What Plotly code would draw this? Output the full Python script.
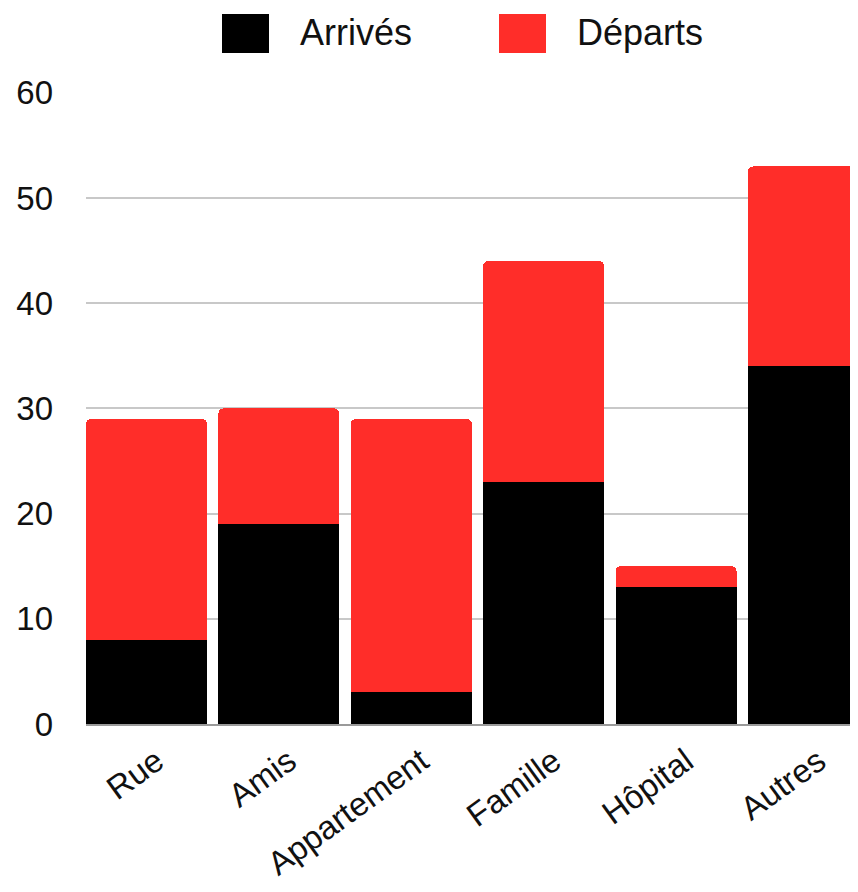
import plotly.graph_objects as go

categories = ["Rue", "Amis", "Appartement", "Famille", "Hôpital", "Autres"]
arrives = [8, 19, 3, 23, 13, 34]
departs = [21, 11, 26, 21, 2, 19]
series_names = ["Arrivés", "Départs"]
colors = ["#000000", "#ff2d29"]
y_ticks = [0, 10, 20, 30, 40, 50, 60]

# page body has an 8px margin: reference pixel p -> figure pixel p - 8
OFF = 8
W, H = 858 - OFF, 892 - OFF
L, R, T, B = 86 - OFF, 0, 92 - OFF, 892 - 724
PW, PH = W - L - R, H - T - B

def px_x(x):
    return (x - OFF - L) / PW

def px_y(y):
    return (H - B - (y - OFF)) / PH

FONT = "Liberation Sans"

fig = go.Figure()
fig.add_trace(go.Bar(x=categories, y=arrives, name=series_names[0],
                     marker=dict(color=colors[0], line=dict(width=0))))
fig.add_trace(go.Bar(x=categories, y=departs, name=series_names[1],
                     marker=dict(color=colors[1], line=dict(width=0))))

# custom legend (large square swatches)
legend_items = [(222, 269, 298), (499, 546, 575)]
shapes = []
annotations = []
for (x0, x1, tx), name, col in zip(legend_items, series_names, colors):
    shapes.append(dict(type="rect", xref="paper", yref="paper",
                       x0=px_x(x0), x1=px_x(x1), y0=px_y(53), y1=px_y(14),
                       fillcolor=col, line=dict(width=0), layer="above"))
    annotations.append(dict(text=name, xref="paper", yref="paper",
                            x=px_x(tx), y=px_y(33), xanchor="left", yanchor="middle",
                            showarrow=False, font=dict(family=FONT, size=36, color="#111111")))

fig.update_layout(
    width=W, height=H,
    margin=dict(l=L, r=R, t=T, b=B, pad=0, autoexpand=False),
    barmode="stack",
    bargap=0.086,
    barcornerradius=5,
    showlegend=False,
    plot_bgcolor="white",
    paper_bgcolor="white",
    font=dict(family=FONT, color="#111111"),
    shapes=shapes,
    annotations=annotations,
)
fig.update_xaxes(
    range=[-0.457, 5.374],
    automargin=False,
    tickangle=-36,
    tickfont=dict(family=FONT, size=33, color="#111111"),
    showgrid=False,
    showline=True, linecolor="#9a9a9a", linewidth=2,
    ticks="",
    ticklabelstandoff=3,
    ticklabelshift=10,
)
fig.update_yaxes(
    range=[0, 60.08],
    automargin=False,
    tickvals=y_ticks,
    tickfont=dict(family=FONT, size=33, color="#111111"),
    showgrid=True, gridcolor="#c8c8c8", gridwidth=1.5,
    zeroline=False,
    ticks="",
    ticklabelstandoff=32,
)

fig.write_html("out.html")
